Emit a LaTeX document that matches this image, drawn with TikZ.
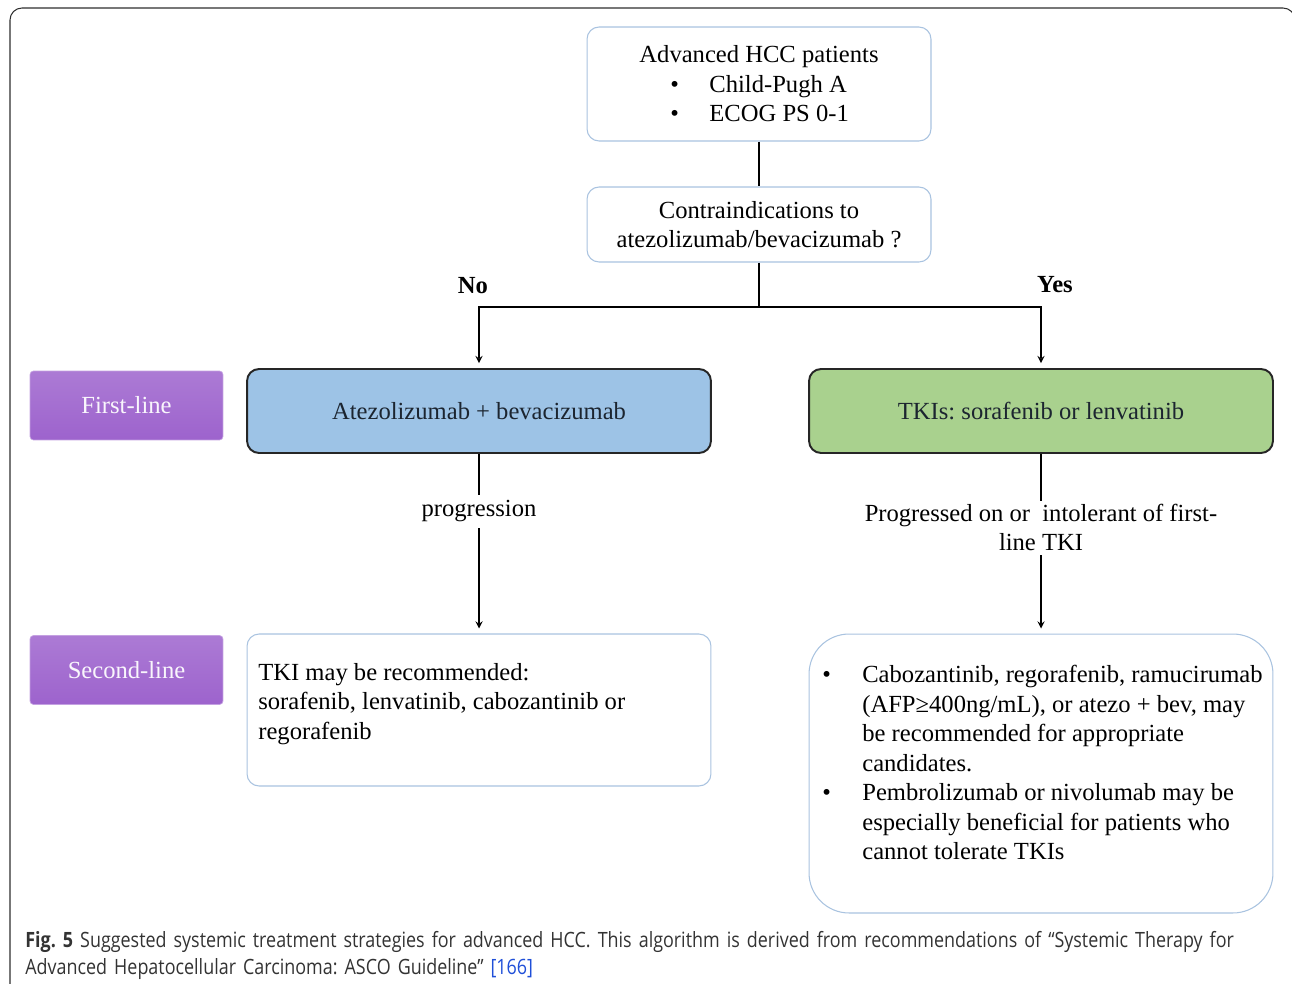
\documentclass[tikz,border=0pt]{standalone}
\usepackage{fontspec}
\setmainfont{Liberation Serif}
\newfontfamily\legende[FakeStretch=0.85]{Open Sans}
\usetikzlibrary{arrows}
\frenchspacing

\definecolor{contour}{HTML}{A9C3E0}
\definecolor{bleu}{HTML}{9DC3E6}
\definecolor{vert}{HTML}{A9D18E}
\definecolor{mauve}{HTML}{9D63CD}
\definecolor{encre}{HTML}{1C2530}
\definecolor{gris}{HTML}{333333}
\definecolor{renvoi}{HTML}{1F4FD8}

\begin{document}
\begin{tikzpicture}[x=0.02cm,y=-0.02cm,font=\fontsize{14}{16.8}\selectfont]
  \tikzstyle{fleche}=[->,>=stealth,thick,shorten >=0.1cm]
\tikzset{boite/.style={draw=contour,semithick,fill=white,rounded corners=0.24cm,inner sep=0pt,align=center},
traitement/.style={draw=black!85,line width=1.1pt,fill=#1,rounded corners=0.24cm,inner sep=0pt,text=encre},
traitement/.default={white},
ligne/.style={draw=mauve!60!white,top color=mauve!85!white,bottom color=mauve,rounded corners=2pt,minimum width=3.86cm,minimum height=1.38cm,text=white!94!mauve}}
\useasboundingbox (0,0) rectangle (1292,984);
\draw[gris!90!black,semithick,rounded corners=0.24cm] (10,1010) -- (10,8) -- (1295,8) -- (1295,1010);

\node[boite,minimum width=6.88cm,minimum height=2.28cm,align=left] (patients) at (759,84){Advanced HCC patients\\
\makebox[1.4cm][l]{\hspace{0.62cm}\textbullet}Child-Pugh A\\
\makebox[1.4cm][l]{\hspace{0.62cm}\textbullet}ECOG PS 0-1};
\node[boite,minimum width=6.88cm,minimum height=1.5cm] (contre) at (759,224.5){Contraindications to\\atezolizumab/bevacizumab ?};
\coordinate (embranchement) at (759,307);
\node[font=\fontsize{14}{16.8}\selectfont\bfseries] (non) at (473,286){No};
\node[font=\fontsize{14}{16.8}\selectfont\bfseries] (oui) at (1055,285){Yes};

\node[ligne] (premiere) at (126.5,405.5){First-line};
\node[traitement=bleu,minimum width=9.28cm,minimum height=1.68cm] (atezo) at (479,411){Atezolizumab + bevacizumab};
\node[traitement=vert,minimum width=9.28cm,minimum height=1.68cm] (tki) at (1041,411){TKIs: sorafenib or lenvatinib};

\node[ligne] (deuxieme) at (126.5,670){Second-line};
\node[boite,minimum width=9.28cm,minimum height=3.04cm] (suite1) at (479,710){};
\node[anchor=north west,align=left,inner sep=0pt] (texte1) at (258,663){TKI may be recommended:\\
sorafenib, lenvatinib, cabozantinib or\\
regorafenib};
\node[boite,rounded corners=0.8cm,minimum width=9.28cm,minimum height=5.58cm] (suite2) at (1041,773.5){};
\node[anchor=north west,align=left,inner sep=0pt] (texte2) at (822,665){\makebox[0.8cm][l]{\textbullet}Cabozantinib, regorafenib, ramucirumab\\
\hspace*{0.8cm}(AFP≥400ng/mL), or atezo + bev, may\\
\hspace*{0.8cm}be recommended for appropriate\\
\hspace*{0.8cm}candidates.\\
\makebox[0.8cm][l]{\textbullet}Pembrolizumab or nivolumab may be\\
\hspace*{0.8cm}especially beneficial for patients who\\
\hspace*{0.8cm}cannot tolerate TKIs};

\draw[thick] (patients) -- (contre);
\draw[thick] (contre) -- (embranchement);
\draw[fleche] (embranchement) -| (atezo);
\draw[fleche] (embranchement) -| (tki);
\draw[fleche] (atezo) -- node[pos=0.32,fill=white] (progression){progression} (suite1);
\draw[fleche] (tki) -- node[pos=0.41,fill=white,align=center,inner sep=2pt] (intolerance){Progressed on or\ \ intolerant of first-\\line TKI} (suite2);

% legende de la figure
\node[anchor=north west,text width=25.2cm,align=left,inner sep=0pt,text=gris,font=\legende\fontsize{12}{15.3}\selectfont] (legende) at (25,931){\textbf{Fig.\ 5} Suggested systemic treatment strategies for advanced HCC. This algorithm is derived from recommendations of “Systemic Therapy for\\
Advanced Hepatocellular Carcinoma: ASCO Guideline” \textcolor{renvoi}{[166]}};

\end{tikzpicture}
\end{document}
